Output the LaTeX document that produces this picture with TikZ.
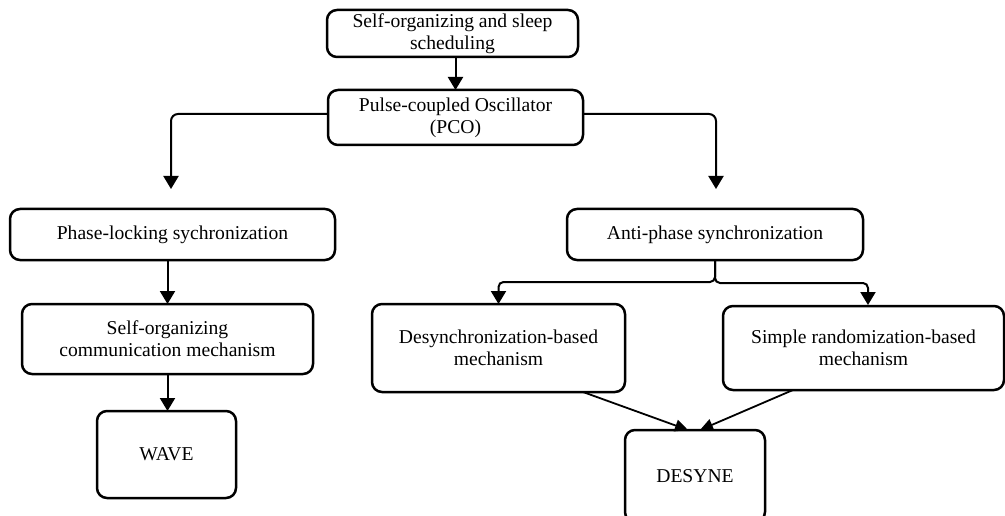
\documentclass[tikz,border=0pt]{standalone}
\usepackage{fontspec}
\setmainfont{Liberation Serif}
\usetikzlibrary{arrows.meta}
\begin{document}
\begin{tikzpicture}[x=1pt,y=-1pt,
  box/.style={draw=black, line width=2.5pt, rounded corners=10pt, align=center,
    inner sep=0pt, outer sep=0pt, font=\fontsize{19.6}{22}\selectfont},
  arr/.style={draw=black, line width=2pt, -{Triangle[width=15pt,length=13pt]}},
  darr/.style={draw=black, line width=1.8pt, -{Triangle[width=12pt,length=13pt]}}]
\useasboundingbox (0,0) rectangle (1005,516);
\node[box, minimum width=251pt, minimum height=47pt] (top) at (452.5,33.5) {Self-organizing and sleep\\scheduling};
\node[box, minimum width=255pt, minimum height=55pt] (pco) at (455.5,117.5) {Pulse-coupled Oscillator\\(PCO)};
\node[box, minimum width=325pt, minimum height=51pt] (phase) at (172.5,234.5) {Phase-locking sychronization};
\node[box, minimum width=296pt, minimum height=51pt] (anti) at (715,234.5) {Anti-phase synchronization};
\node[box, minimum width=291pt, minimum height=70pt] (selforg) at (167.5,339) {Self-organizing\\communication mechanism};
\node[box, minimum width=139pt, minimum height=87pt] (wave) at (166.5,454.5) {WAVE};
\node[box, minimum width=253pt, minimum height=88pt] (desync) at (498.5,348) {Desynchronization-based\\mechanism};
\node[box, minimum width=281pt, minimum height=84pt] (simple) at (863.5,348) {Simple randomization-based\\mechanism};
\node[box, minimum width=140pt, minimum height=92pt] (desyne) at (695,476) {DESYNE};
\coordinate (lt) at (171,189);
\coordinate (rt) at (716,189);
\draw[arr] (top.south -| pco.north) -- (pco.north);
\draw[arr, rounded corners=7pt] ([yshift=3.5pt]pco.west) -| (lt);
\draw[arr, rounded corners=7pt] ([yshift=3.5pt]pco.east) -| (rt);
\draw[arr] (phase.south -| selforg.north) -- (selforg.north);
\draw[arr] (selforg.south) -- (selforg.south |- wave.north);
\draw[arr, rounded corners=5pt] (anti.south) |- (desync.north |- 0,282) -- (desync.north);
\draw[arr, rounded corners=5pt] (anti.south) |- (868,283) -- (868,305);
\draw[darr] ([xshift=84.5pt]desync.south) -- ([xshift=-7pt]desyne.north);
\draw[darr] ([xshift=-70.5pt]simple.south) -- ([xshift=5pt]desyne.north);
\end{tikzpicture}
\end{document}
